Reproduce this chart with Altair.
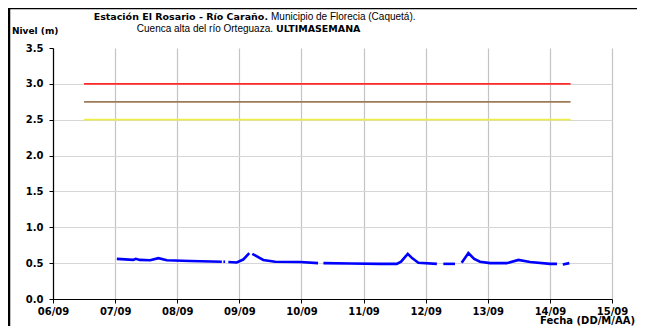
import altair as alt
import pandas as pd

# Water level series (blue), split in segments where the record has gaps
times = [
    "2014-09-07T00:40", "2014-09-07T07:00", "2014-09-07T08:00", "2014-09-07T09:30",
    "2014-09-07T13:30", "2014-09-07T16:45", "2014-09-07T20:00", "2014-09-08T05:00",
    "2014-09-08T17:15",
    "2014-09-08T17:50", "2014-09-08T18:30",
    "2014-09-08T19:45", "2014-09-08T23:00", "2014-09-09T01:30", "2014-09-09T03:50",
    "2014-09-09T05:00", "2014-09-09T09:15", "2014-09-09T13:50", "2014-09-09T23:30",
    "2014-09-10T06:25",
    "2014-09-10T08:30", "2014-09-10T18:45", "2014-09-11T06:25", "2014-09-11T12:50",
    "2014-09-11T14:30", "2014-09-11T17:05", "2014-09-11T18:45", "2014-09-11T21:10",
    "2014-09-12T04:20",
    "2014-09-12T06:50", "2014-09-12T11:20",
    "2014-09-12T13:55", "2014-09-12T16:30", "2014-09-12T18:45", "2014-09-12T21:00",
    "2014-09-13T00:55", "2014-09-13T07:20", "2014-09-13T11:50", "2014-09-13T16:20",
    "2014-09-14T00:05", "2014-09-14T02:45",
    "2014-09-14T05:00", "2014-09-14T07:30",
]
levels = [
    0.56, 0.545, 0.56, 0.545, 0.54, 0.57, 0.54, 0.53, 0.52,
    0.52, 0.52,
    0.515, 0.51, 0.55, 0.64,
    0.63, 0.545, 0.52, 0.515, 0.50,
    0.50, 0.495, 0.49, 0.49, 0.52, 0.63, 0.57, 0.505, 0.49,
    0.49, 0.49,
    0.505, 0.64, 0.56, 0.52, 0.50, 0.50, 0.545, 0.515, 0.49, 0.49,
    0.48, 0.50,
]
segments = [1] * 9 + [2] * 2 + [3] * 4 + [4] * 5 + [5] * 9 + [6] * 2 + [7] * 10 + [8] * 2

# Alert thresholds
thr_names = ["Rojo", "Naranja", "Amarilla"]
thr_levels = [3.0, 2.75, 2.5]
thr_colors = ["#FF2A2A", "#9C7A55", "#EEEE4A"]
thr_start = "2014-09-06T12:00"
thr_end = "2014-09-14T08:00"

x_domain = ["2014-09-06T00:00", "2014-09-15T00:00"]
y_ticks = [0.0, 0.5, 1.0, 1.5, 2.0, 2.5, 3.0, 3.5]

FONT = "Liberation Sans"
BOLD_FONT = "DejaVu Sans"

series = pd.DataFrame({"t": times, "v": levels, "seg": segments})
thr = pd.DataFrame({"name": thr_names, "v": thr_levels, "c": thr_colors,
                    "t0": [thr_start] * 3, "t1": [thr_end] * 3})

xscale = alt.Scale(domain=x_domain)
yscale = alt.Scale(domain=[0, 3.5])

xaxis = alt.Axis(title=None, format="%d/%m", tickCount={"interval": "day", "step": 1},
                 labelFlush=False, grid=True, gridColor="#C4C4C4", gridWidth=1.2)
yaxis = alt.Axis(title=None, values=y_ticks, format=".1f", grid=True,
                 gridColor="#D6D6D6", gridWidth=1.2,
                 gridOpacity={"condition": {"test": "datum.value >= 3.5", "value": 0}, "value": 1})

base_line = alt.Chart(series).mark_line(color="#0000FF", strokeWidth=2.6).encode(
    x=alt.X("t:T", scale=xscale, axis=xaxis),
    y=alt.Y("v:Q", scale=yscale, axis=yaxis),
    detail="seg:N",
)

thr_rules = alt.Chart(thr).mark_rule(strokeWidth=1.8).encode(
    x=alt.X("t0:T", scale=xscale, axis=xaxis),
    x2="t1:T",
    y=alt.Y("v:Q", scale=yscale, axis=yaxis),
    color=alt.Color("c:N", scale=None),
)

one = pd.DataFrame({"k": [0]})


def txt(text, x, y, align="left", bold=False, size=10):
    return alt.Chart(one).mark_text(
        text=text, align=align, baseline="middle",
        font=BOLD_FONT if bold else FONT, fontSize=size,
        fontWeight="bold" if bold else "normal", color="black",
    ).encode(x=alt.value(x), y=alt.value(y))


# page coords -> chart coords: plot origin at page (53, 48)
title_parts = [
    txt("Estación El Rosario - Río Caraño.", 215, -31, align="right", bold=True, size=9.5),
    txt("Municipio de Florecia (Caquetá).", 218, -31, align="left"),
    txt("Cuenca alta del río Orteguaza.", 220, -19, align="right"),
    txt("ULTIMASEMANA", 223, -19, align="left", bold=True, size=9.5),
    txt("Nivel (m)", -41, -17, align="left", bold=True, size=9),
    txt("Fecha (DD/M/AA)", 582, 273, align="right", bold=True, size=10),
]

border = [
    alt.Chart(one).mark_rule(color="black", strokeWidth=2.5).encode(
        x=alt.value(-44), y=alt.value(-41), y2=alt.value(300)),
    alt.Chart(one).mark_rule(color="black", strokeWidth=2.5).encode(
        x=alt.value(-45), x2=alt.value(600), y=alt.value(-40)),
]

chart = alt.layer(thr_rules, base_line, *title_parts, *border).properties(
    width=559, height=251,
    autosize=alt.AutoSizeParams(type="none"),
    padding={"left": 45, "top": 40, "right": 25, "bottom": 27},
).configure_view(stroke=None).configure_axis(
    labelFont=BOLD_FONT, labelFontSize=10, labelFontWeight="bold", labelColor="black",
    domainColor="black", domainWidth=1.2, tickColor="black", tickSize=4,
).configure_axisY(labelPadding=6).configure_axisX(labelPadding=3)

chart.save("out.html", embed_options={"renderer": "svg", "actions": False})
